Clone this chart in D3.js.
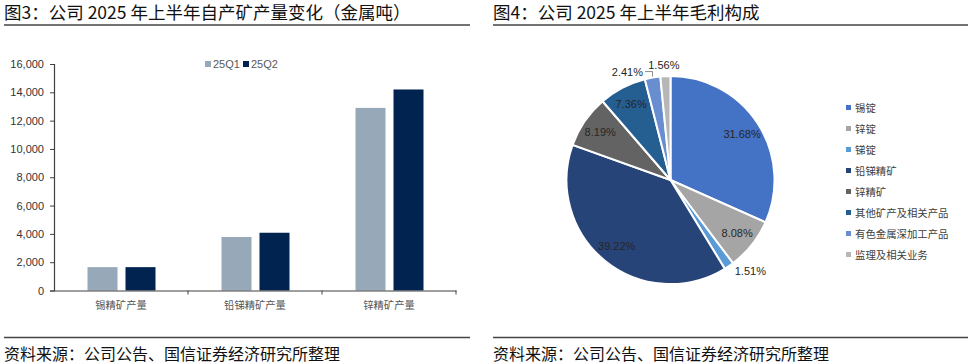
<!DOCTYPE html>
<html><head><meta charset="utf-8">
<script src="https://cdn.jsdelivr.net/npm/d3@7"></script>
<style>
html,body{margin:0;padding:0;background:#fff;}
svg{display:block;}
text{font-family:"Liberation Sans","Noto Sans CJK SC",sans-serif;}
.cjk{font-family:"Noto Sans CJK SC","Liberation Sans",sans-serif;}
</style></head>
<body>
<svg id="c" width="970" height="364"></svg>
<script>
// ---- data ----
const categories = ["锡精矿产量", "铅锑精矿产量", "锌精矿产量"];
const seriesNames = ["25Q1", "25Q2"];
const q1Values = [1650, 3780, 12900];
const q2Values = [1650, 4080, 14200];
const yTicks = [0, 2000, 4000, 6000, 8000, 10000, 12000, 14000, 16000];

const pieLabels = ["锡锭", "锌锭", "锑锭", "铅锑精矿", "锌精矿", "其他矿产及相关产品", "有色金属深加工产品", "监理及相关业务"];
const pieValues = [31.68, 8.08, 1.51, 39.22, 8.19, 7.36, 2.41, 1.56];

const title1 = "图3：公司 2025 年上半年自产矿产量变化（金属吨）";
const title2 = "图4：公司 2025 年上半年毛利构成";
const source = "资料来源：公司公告、国信证券经济研究所整理";

// ---- styles ----
const barColors = ["#97A8B9", "#00234F"];
const pieColors = ["#4472C4", "#A5A5A5", "#5B9BD5", "#264478", "#636363", "#255E91", "#698ED0", "#B7B7B7"];

const svg = d3.select("#c");

// headers & footers
[[4, 470, title1], [493, 968, title2]].forEach(([x0, x1, t]) => {
  svg.append("text").attr("class", "cjk").attr("x", x0).attr("y", 19)
    .attr("font-size", 17.5).attr("fill", "#111").text(t);
  svg.append("line").attr("x1", x0).attr("x2", x1).attr("y1", 25).attr("y2", 25)
    .attr("stroke", "#444").attr("stroke-width", 1.5);
  svg.append("line").attr("x1", x0).attr("x2", x1).attr("y1", 337.5).attr("y2", 337.5)
    .attr("stroke", "#444").attr("stroke-width", 1.5);
  svg.append("text").attr("class", "cjk").attr("x", x0).attr("y", 360)
    .attr("font-size", 16).attr("fill", "#111").text(source);
});

// ---- bar chart ----
const y = d3.scaleLinear().domain([0, 16000]).range([290.5, 64]);
const x = d3.scaleBand().domain(categories).range([54, 456]).padding(0);
const xs = d3.scaleBand().domain(seriesNames).range([33.5, 101.5]).paddingInner(8 / 38);

const yAxis = d3.axisLeft(y).tickValues(yTicks).tickFormat(d3.format(",")).tickSize(4).tickPadding(6);
const gy = svg.append("g").attr("transform", "translate(54,0)").call(yAxis);
gy.select(".domain").attr("stroke", "#404040").attr("stroke-width", 1.2);
gy.selectAll(".tick line").attr("stroke", "#404040");
gy.selectAll(".tick text").attr("font-size", 11).attr("fill", "#333")
  .attr("font-family", "Liberation Sans, sans-serif");

const barData = categories.map((c, i) => ({ c, vals: [q1Values[i], q2Values[i]] }));
const groups = svg.append("g").selectAll("g").data(barData).join("g")
  .attr("transform", d => `translate(${x(d.c)},0)`);
groups.selectAll("rect").data(d => d.vals.map((v, j) => ({ s: seriesNames[j], v, j })))
  .join("rect")
  .attr("x", d => xs(d.s)).attr("width", xs.bandwidth())
  .attr("y", d => y(d.v)).attr("height", d => y(0) - y(d.v))
  .attr("fill", d => barColors[d.j]);

const xAxis = d3.axisBottom(x).tickSize(0).tickPadding(11);
const gx = svg.append("g").attr("transform", `translate(0,${y(0)})`).call(xAxis);
gx.select(".domain").attr("stroke", "#404040").attr("stroke-width", 1.2);
gx.selectAll(".tick text").attr("font-size", 10.3).attr("fill", "#555")
  .attr("font-family", "Noto Sans CJK SC, sans-serif");
// category boundary ticks
svg.append("g").selectAll("line").data(categories.slice(1).concat(["__end"]))
  .join("line")
  .attr("x1", d => d === "__end" ? x.range()[1] : x(d))
  .attr("x2", d => d === "__end" ? x.range()[1] : x(d))
  .attr("y1", y(0)).attr("y2", y(0) + 4)
  .attr("stroke", "#404040");

// bar legend
const lg = svg.append("g");
seriesNames.forEach((s, i) => {
  const lx = 205 + i * 38;
  lg.append("rect").attr("x", lx).attr("y", 61).attr("width", 6).attr("height", 6).attr("fill", barColors[i]);
  lg.append("text").attr("x", lx + 8).attr("y", 67.5).attr("font-size", 11).attr("fill", "#595959").text(s);
});

// ---- pie chart ----
const cx = 670.5, cy = 180, R = 104;
const pie = d3.pie().sort(null).value(d => d)(pieValues);
const arc = d3.arc().innerRadius(0).outerRadius(R);
const gp = svg.append("g").attr("transform", `translate(${cx},${cy})`);
gp.selectAll("path").data(pie).join("path")
  .attr("d", arc).attr("fill", (d, i) => pieColors[i])
  .attr("stroke", "#fff").attr("stroke-width", 2);

const inArc = d3.arc().innerRadius(R * 0.82).outerRadius(R * 0.82);
const fmt = v => v.toFixed(2) + "%";
pie.forEach((d, i) => {
  const mid = (d.startAngle + d.endAngle) / 2;
  if (d.value >= 3) {
    const [px, py] = inArc.centroid(d);
    gp.append("text").attr("x", px).attr("y", py + 4).attr("text-anchor", "middle")
      .attr("font-size", 11).attr("fill", "#262626").text(fmt(d.value));
  } else {
    const s = Math.sin(mid), c = Math.cos(mid);
    const ox = R * s, oy = -R * c;
    if (s > 0.3) {
      gp.append("text").attr("x", R * 1.1 * s).attr("y", -R * 1.1 * c + 0.5)
        .attr("text-anchor", "start").attr("font-size", 11).attr("fill", "#262626").text(fmt(d.value));
    } else if (Math.abs(s) < 0.1) {
      gp.append("text").attr("x", R * 1.11 * s - 1).attr("y", -R * 1.11 * c + 4)
        .attr("text-anchor", "middle").attr("font-size", 11).attr("fill", "#262626").text(fmt(d.value));
    } else {
      const lx = ox - 9.5, ly = oy - 6;
      gp.append("polyline")
        .attr("points", [[lx + 2, ly], [ox, ly], [ox, oy - 1]].map(p => p.join(",")).join(" "))
        .attr("fill", "none").attr("stroke", "#8c8c8c").attr("stroke-width", 1);
      gp.append("text").attr("x", lx).attr("y", ly + 4)
        .attr("text-anchor", "end").attr("font-size", 11).attr("fill", "#262626").text(fmt(d.value));
    }
  }
});

// pie legend
const pl = svg.append("g");
pieLabels.forEach((t, i) => {
  const ly = 108 + i * 21;
  pl.append("rect").attr("x", 846).attr("y", ly - 3).attr("width", 5).attr("height", 5).attr("fill", pieColors[i]);
  pl.append("text").attr("class", "cjk").attr("x", 855).attr("y", ly + 4)
    .attr("font-size", 10.4).attr("fill", "#404040").text(t);
});
</script>
</body></html>
